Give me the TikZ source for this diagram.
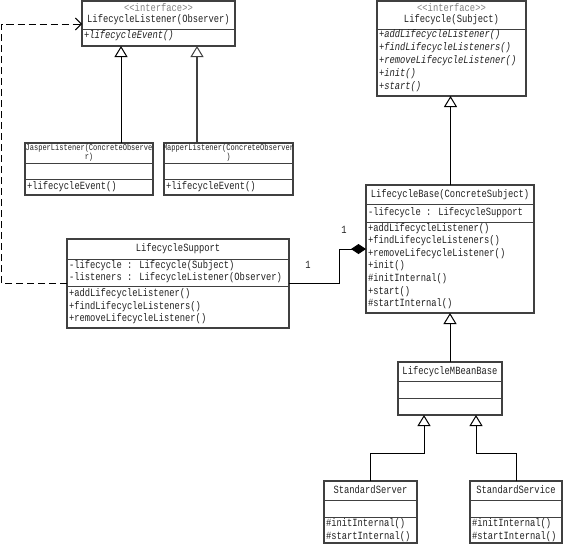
\documentclass[tikz,border=0pt]{standalone}
\usepackage{fontspec}
\usetikzlibrary{arrows.meta}
\newfontfamily\umlfont{Liberation Mono}[FakeStretch=0.8]
\definecolor{boxgray}{HTML}{404040}
\definecolor{stereo}{HTML}{808080}
\definecolor{ink}{HTML}{202020}
\tikzset{
  umlbox/.style={draw=boxgray, line width=1.4pt, rectangle, inner sep=0pt, outer sep=0pt, anchor=north west},
  sep/.style={draw=boxgray, line width=1pt},
  txt/.style={inner sep=0pt, outer sep=0pt, font=\umlfont\fontsize{11}{12}\selectfont, text=ink},
  ltxt/.style={txt, anchor=west},
  stxt/.style={inner sep=0pt, outer sep=0pt, font=\umlfont\fontsize{8.8}{9}\selectfont, text=ink, align=center},
  itxt/.style={ltxt, font=\umlfont\itshape\fontsize{11}{12}\selectfont},
  stereotype/.style={txt, text=stereo},
  inh/.style={draw=black, line width=1pt, -{Triangle[open, length=11pt, width=13pt, line width=1pt]}},
  inhgray/.style={draw=boxgray, line width=1.6pt, -{Triangle[open, length=11pt, width=13pt, line width=1pt]}},
  comp/.style={draw=black, line width=1pt, {Diamond[length=15pt, width=10pt]}-},
  depend/.style={draw=black, line width=1pt, dash pattern=on 7pt off 4pt, -{Straight Barb[length=6pt, width=12pt, line width=1pt]}}
}
\begin{document}
\begin{tikzpicture}[x=1pt, y=-1pt]
\useasboundingbox (0,0) rectangle (564,546);

% ---------- LifecycleListener ----------
\node[umlbox, minimum width=153pt, minimum height=45pt] (ll) at (82,1) {};
\draw[sep] (ll.west |- 0,29) -- (ll.east |- 0,29);
\node[stereotype] (llst) at (158.5,8) {<<interface>>};
\node[txt] (llname) at (158.5,19.5) {LifecycleListener(Observer)};
\node[itxt] (llm1) at (84,36) {+lifecycleEvent()};

% ---------- Lifecycle ----------
\node[umlbox, minimum width=149pt, minimum height=95pt] (lc) at (377,1) {};
\draw[sep] (lc.west |- 0,29) -- (lc.east |- 0,29);
\node[stereotype] (lcst) at (451.5,7.5) {<<interface>>};
\node[txt] (lcname) at (451.5,20) {Lifecycle(Subject)};
\node[itxt] (lcm1) at (379,35) {+addLifecycleListener()};
\node[itxt] (lcm2) at (379,48) {+findLifecycleListeners()};
\node[itxt] (lcm3) at (379,61) {+removeLifecycleListener()};
\node[itxt] (lcm4) at (379,74) {+init()};
\node[itxt] (lcm5) at (379,87) {+start()};

% ---------- JasperListener ----------
\node[umlbox, minimum width=128pt, minimum height=52pt] (jl) at (25,143) {};
\draw[sep] (jl.west |- 0,163) -- (jl.east |- 0,163);
\draw[sep] (jl.west |- 0,179) -- (jl.east |- 0,179);
\node[stxt] (jlname) at (89,152.5) {JasperListener(ConcreteObserve\\r)};
\node[ltxt] (jlm1) at (27,187) {+lifecycleEvent()};

% ---------- MapperListener ----------
\node[umlbox, minimum width=129pt, minimum height=52pt] (ml) at (164,143) {};
\draw[sep] (ml.west |- 0,163) -- (ml.east |- 0,163);
\draw[sep] (ml.west |- 0,179) -- (ml.east |- 0,179);
\node[stxt] (mlname) at (228.5,152.5) {MapperListener(ConcreteObserver\\)};
\node[ltxt] (mlm1) at (166,187) {+lifecycleEvent()};

% ---------- LifecycleSupport ----------
\node[umlbox, minimum width=222pt, minimum height=89pt] (ls) at (67,239) {};
\draw[sep] (ls.west |- 0,259) -- (ls.east |- 0,259);
\draw[sep] (ls.west |- 0,286) -- (ls.east |- 0,286);
\node[txt] (lsname) at (178,248.5) {LifecycleSupport};
\node[ltxt] (lsa1) at (69,265.5) {-lifecycle : Lifecycle(Subject)};
\node[ltxt] (lsa2) at (69,278) {-listeners : LifecycleListener(Observer)};
\node[ltxt] (lsm1) at (69,294) {+addLifecycleListener()};
\node[ltxt] (lsm2) at (69,306.5) {+findLifecycleListeners()};
\node[ltxt] (lsm3) at (69,319) {+removeLifecycleListener()};

% ---------- LifecycleBase ----------
\node[umlbox, minimum width=168pt, minimum height=128pt] (lb) at (366,185) {};
\draw[sep] (lb.west |- 0,204) -- (lb.east |- 0,204);
\draw[sep] (lb.west |- 0,222) -- (lb.east |- 0,222);
\node[txt] (lbname) at (450,194.5) {LifecycleBase(ConcreteSubject)};
\node[ltxt] (lba1) at (368,212.5) {-lifecycle : LifecycleSupport};
\node[ltxt] (lbm1) at (368,228.5) {+addLifecycleListener()};
\node[ltxt] (lbm2) at (368,241) {+findLifecycleListeners()};
\node[ltxt] (lbm3) at (368,253.5) {+removeLifecycleListener()};
\node[ltxt] (lbm4) at (368,266) {+init()};
\node[ltxt] (lbm5) at (368,279) {\#initInternal()};
\node[ltxt] (lbm6) at (368,291.5) {+start()};
\node[ltxt] (lbm7) at (368,304) {\#startInternal()};

% ---------- LifecycleMBeanBase ----------
\node[umlbox, minimum width=104pt, minimum height=53pt] (mb) at (398,362) {};
\draw[sep] (mb.west |- 0,381) -- (mb.east |- 0,381);
\draw[sep] (mb.west |- 0,398) -- (mb.east |- 0,398);
\node[txt] (mbname) at (450,372) {LifecycleMBeanBase};

% ---------- StandardServer ----------
\node[umlbox, minimum width=93pt, minimum height=62pt] (ss) at (324,481) {};
\draw[sep] (ss.west |- 0,500) -- (ss.east |- 0,500);
\draw[sep] (ss.west |- 0,517) -- (ss.east |- 0,517);
\node[txt] (ssname) at (370.5,489.5) {StandardServer};
\node[ltxt] (ssm1) at (326,523.5) {\#initInternal()};
\node[ltxt] (ssm2) at (326,536.5) {\#startInternal()};

% ---------- StandardService ----------
\node[umlbox, minimum width=92pt, minimum height=62pt] (sv) at (470,481) {};
\draw[sep] (sv.west |- 0,500) -- (sv.east |- 0,500);
\draw[sep] (sv.west |- 0,517) -- (sv.east |- 0,517);
\node[txt] (svname) at (516,489.5) {StandardService};
\node[ltxt] (svm1) at (472,523.5) {\#initInternal()};
\node[ltxt] (svm2) at (472,536.5) {\#startInternal()};

% ---------- connectors ----------
\draw[inh] (jl.north -| 121,0) -- (ll.south -| 121,0);
\draw[inhgray] (ml.north -| 197,0) -- (ll.south -| 197,0);
\draw[inh] (lb.north -| 450.5,0) -- (lc.south -| 450.5,0);
\draw[inh] (mb.north) -- (mb.north |- lb.south);
\coordinate (j1) at (424,453);
\coordinate (j2) at (476,453);
\draw[inh] (ss.north) |- (j1) -- (j1 |- mb.south);
\draw[inh] (sv.north) |- (j2) -- (j2 |- mb.south);
\coordinate (dtip) at (366,249);
\coordinate (bend) at (339,283.5);
\draw[comp] (dtip) -| (bend) -- (ls.east);
\coordinate (corner) at (1.5,24);
\draw[depend] (ls.west) -| (corner) -- (corner -| ll.west);

\node[txt] (m1) at (344,229.5) {1};
\node[txt] (m2) at (308,265) {1};
\end{tikzpicture}
\end{document}
